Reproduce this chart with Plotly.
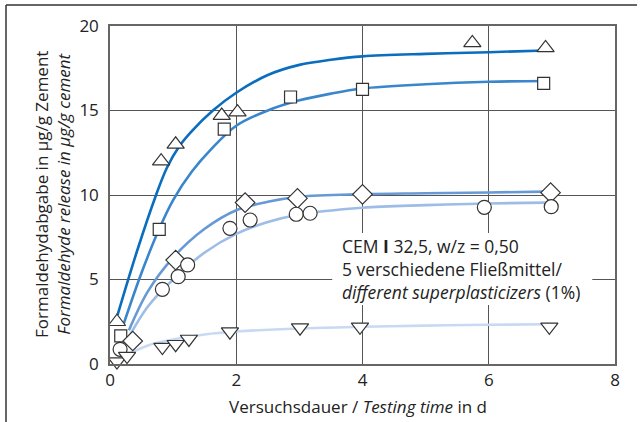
import plotly.graph_objects as go

# ---- measured points ----
tri_x = [0.11, 0.81, 1.04, 1.77, 2.02, 5.74, 6.90]
tri_y = [2.5, 12.0, 13.0, 14.7, 14.9, 19.0, 18.7]
sq_x = [0.17, 0.78, 1.81, 2.86, 4.00, 6.87]
sq_y = [1.66, 7.97, 13.9, 15.8, 16.25, 16.6]
dia_x = [0.36, 1.04, 2.14, 2.97, 4.00, 6.98]
dia_y = [1.36, 6.15, 9.55, 9.8, 10.04, 10.14]
cir_x = [0.16, 0.83, 1.08, 1.23, 1.90, 2.22, 2.95, 3.17, 5.93, 6.99]
cir_y = [0.87, 4.42, 5.17, 5.86, 8.03, 8.52, 8.86, 8.92, 9.27, 9.31]
dtri_x = [0.11, 0.27, 0.83, 1.04, 1.25, 1.90, 3.01, 3.96, 6.96]
dtri_y = [0.14, 0.47, 1.0, 1.17, 1.48, 1.91, 2.15, 2.2, 2.2]

# ---- fitted curves ----
c_tri_x = [0.12, 0.43, 0.72, 0.9, 1.1, 1.3, 1.63, 2.0, 2.5, 3.0, 3.5, 4.0, 5.0, 6.0, 6.9]
c_tri_y = [2.9, 6.7, 9.9, 11.6, 12.9, 13.8, 15.0, 16.05, 17.1, 17.7, 18.0, 18.2, 18.35, 18.45, 18.55]
c_sq_x = [0.21, 0.5, 0.78, 1.0, 1.3, 1.6, 2.0, 2.5, 3.0, 3.5, 4.0, 5.0, 6.0, 6.9]
c_sq_y = [2.3, 5.4, 8.0, 9.7, 11.4, 12.7, 14.1, 15.0, 15.6, 16.0, 16.3, 16.55, 16.7, 16.75]
c_dia_x = [0.3, 0.6, 1.0, 1.5, 2.0, 2.5, 3.0, 4.0, 5.0, 6.0, 6.9]
c_dia_y = [2.0, 4.3, 6.3, 8.0, 9.1, 9.6, 9.9, 10.05, 10.1, 10.15, 10.2]
c_cir_x = [0.3, 0.6, 1.0, 1.5, 2.0, 2.5, 3.0, 4.0, 5.0, 6.0, 6.9]
c_cir_y = [1.6, 3.4, 5.0, 6.6, 7.7, 8.4, 8.85, 9.25, 9.4, 9.5, 9.55]
c_dtri_x = [0.3, 0.6, 1.0, 1.5, 2.0, 3.0, 4.0, 5.0, 6.0, 6.9]
c_dtri_y = [0.6, 1.1, 1.45, 1.75, 1.92, 2.1, 2.2, 2.27, 2.32, 2.35]

x_ticks = [0, 2, 4, 6, 8]
y_ticks = [0, 5, 10, 15, 20]

FONT = "Open Sans"
TXT = "#222222"

fig = go.Figure()

curves = [
    (c_tri_x, c_tri_y, "#0A6DBE"),
    (c_sq_x, c_sq_y, "#3A86CC"),
    (c_dia_x, c_dia_y, "#6699D6"),
    (c_cir_x, c_cir_y, "#9DBDE6"),
    (c_dtri_x, c_dtri_y, "#C8DAF1"),
]
for cx, cy, col in curves:
    fig.add_trace(go.Scatter(x=cx, y=cy, mode="lines", line=dict(color=col, width=2.6, shape="spline"),
                             hoverinfo="skip", showlegend=False))

markers = [
    (tri_x, tri_y, "triangle-up", 15),
    (sq_x, sq_y, "square", 12),
    (dia_x, dia_y, "diamond", 15),
    (cir_x, cir_y, "circle", 14),
    (dtri_x, dtri_y, "triangle-down", 15),
]
for mx, my, sym, sz in markers:
    fig.add_trace(go.Scatter(x=mx, y=my, mode="markers",
                             marker=dict(symbol=sym, size=sz, color="white",
                                         line=dict(color="#333333", width=1.2)),
                             showlegend=False, cliponaxis=False))

# white box behind annotation
fig.add_shape(type="rect", xref="x", yref="y", x0=3.52, x1=7.64, y0=3.49, y1=7.75,
              fillcolor="white", line=dict(width=0), layer="above")

fig.add_annotation(xref="x", yref="y", x=3.64, y=7.8, xanchor="left", yanchor="top",
                   align="left", showarrow=False,
                   text="CEM <b>I</b> 32,5, w/z = 0,50<br>5 verschiedene Fließmittel/<br><i>different superplasticizers</i> (1%)",
                   font=dict(family=FONT, size=17.5, color=TXT))

# axis titles
fig.add_annotation(xref="paper", yref="paper", x=(358 - 110) / 505, y=(364 - 406) / 338,
                   xanchor="center", yanchor="middle",
                   showarrow=False, text="Versuchsdauer / <i>Testing time</i> in d",
                   font=dict(family=FONT, size=17, color=TXT))
fig.add_annotation(xref="paper", yref="paper", x=(52 - 110) / 505, y=0.5, xanchor="center", yanchor="middle",
                   showarrow=False, textangle=-90,
                   text="Formaldehydabgabe in µg/g Zement<br><i>Formaldehyde release in µg/g cement</i>",
                   font=dict(family=FONT, size=17, color=TXT))

# outer frame lines (top and left)
fig.add_shape(type="line", xref="paper", yref="paper", x0=(6 - 110) / 505, x1=(637 - 110) / 505,
              y0=(364 - 5) / 338, y1=(364 - 5) / 338, line=dict(color="#333333", width=1.5))
fig.add_shape(type="line", xref="paper", yref="paper", x0=(6 - 110) / 505, x1=(6 - 110) / 505,
              y0=(364 - 5) / 338, y1=(364 - 422) / 338, line=dict(color="#333333", width=1.5))

axis_common = dict(showgrid=True, gridcolor="#555555", gridwidth=1.3, zeroline=False,
                   showline=True, linecolor="#666666", linewidth=1.5, mirror=True,
                   ticks="", tickfont=dict(family=FONT, size=17, color=TXT))

fig.update_xaxes(range=[0, 8], tickvals=x_ticks, ticklabelstandoff=0, **axis_common)
fig.update_yaxes(range=[0, 20], tickvals=y_ticks, ticklabelstandoff=6, **axis_common)

fig.update_layout(width=642, height=422, margin=dict(l=110, r=27, t=26, b=58),
                  plot_bgcolor="white", paper_bgcolor="white", showlegend=False)

fig.write_html("out.html")
